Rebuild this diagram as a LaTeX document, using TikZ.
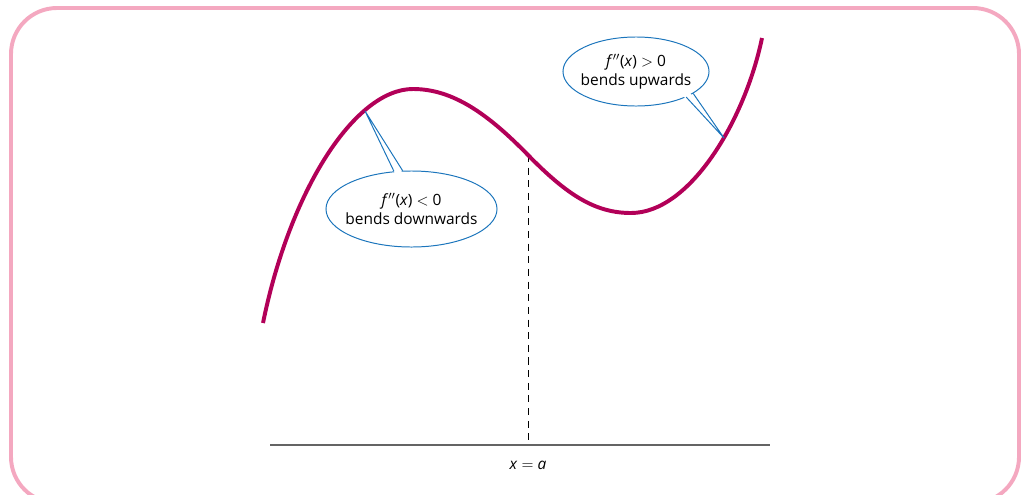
\documentclass[tikz,border=0pt]{standalone}
\usepackage{fontspec}
\setmainfont{Open Sans}
\usetikzlibrary{shapes.geometric,calc}
\definecolor{rose}{RGB}{244,168,192}
\definecolor{framboise}{RGB}{178,0,88}
\definecolor{bleu}{RGB}{27,117,188}
\definecolor{gris}{RGB}{100,100,100}
\begin{document}
\begin{tikzpicture}[x=0.025cm,y=-0.025cm]
% Styles
\tikzstyle{cadre}=[draw=rose,line width=2.8pt,rounded corners=1.15cm]
\tikzstyle{courbe}=[draw=framboise,line width=2.8pt]
\tikzstyle{bulle}=[draw=bleu,line width=0.7pt,fill=white,ellipse,inner sep=0pt]
\tikzstyle{pointe}=[draw=bleu,line width=0.7pt,line join=miter]
\tikzstyle{texte}=[align=center,inner sep=0pt,font=\fontsize{11}{13.5}\selectfont]
\tikzstyle{axe}=[draw=gris,line width=1.4pt]
\tikzstyle{pointilles}=[draw=black,line width=0.65pt,dash pattern=on 5pt off 4pt]
% Dimensions
\def\LargeurBulleA{4.275cm}
\def\HauteurBulleA{1.9cm}
\def\LargeurBulleB{3.65cm}
\def\HauteurBulleB{1.725cm}
% Cadre
\useasboundingbox (0,0) rectangle (1025,494);
\draw[cadre] (11,8) rectangle (1019,503);
% Points de la courbe
\coordinate (S) at (263,323);
\coordinate (M) at (413,89);
\coordinate (I) at (528,155);
\coordinate (N) at (631,213);
\coordinate (E) at (762,38);
% Axe
\coordinate (X0) at (270,445);
\coordinate (X1) at (770,445);
\coordinate (A) at (528,445);
\draw[axe] (X0)--(X1);
\draw[pointilles] (I)--(A);
\node[texte] (La) at (528,465) {\textit{x} $=$ \textit{a}};
% Courbe
\draw[courbe] (S) .. controls (290,190) and (355,89) .. (M)
  .. controls (453,89) and (488,114) .. (I)
  .. controls (568,196) and (596,213) .. (N)
  .. controls (690,213) and (745,120) .. (E);
% Bulles
\node[bulle,minimum width=\LargeurBulleA,minimum height=\HauteurBulleA] (B1) at (411.5,209) {};
\coordinate (P1) at (365,111);
\fill[white] ($(B1.115)!3pt!(B1.center)$)--(P1)--($(B1.103)!3pt!(B1.center)$)--cycle;
\draw[pointe] (B1.115)--(P1)--(B1.103);
\node[texte] (T1) at (B1) {\textit{f}$''$(\textit{x}) $<$ 0\\bends downwards};
\node[bulle,minimum width=\LargeurBulleB,minimum height=\HauteurBulleB] (B2) at (636,71.5) {};
\coordinate (P2) at (724,138);
\fill[white] ($(B2.-27)!3pt!(B2.center)$)--(P2)--($(B2.-21)!3pt!(B2.center)$)--cycle;
\draw[pointe] (B2.-27)--(P2)--(B2.-21);
\node[texte] (T2) at (B2) {\textit{f}$''$(\textit{x}) $>$ 0\\bends upwards};
\end{tikzpicture}
\end{document}
